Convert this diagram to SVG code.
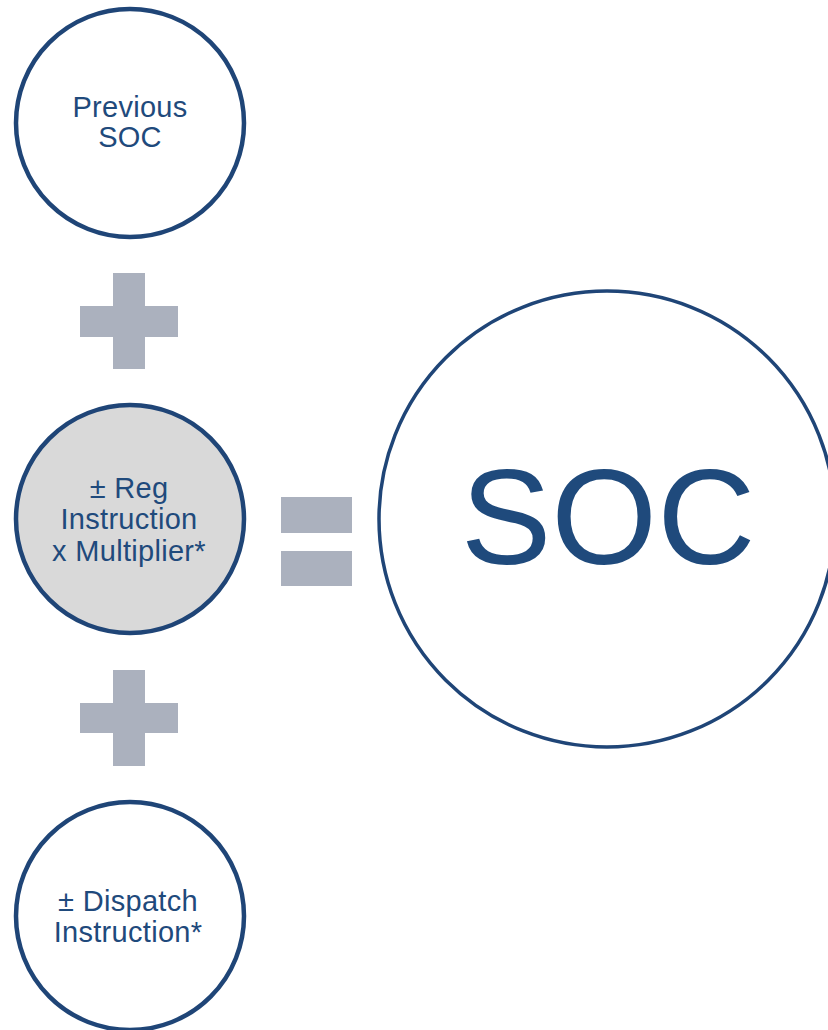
<svg xmlns="http://www.w3.org/2000/svg" width="828" height="1030" viewBox="0 0 828 1030">
<style>
.ring{fill:#ffffff;stroke:#1F4577;stroke-width:4.5}
.big{fill:#ffffff;stroke:#1F4577;stroke-width:3.5}
.shade{fill:#D9D9D9}
.op{fill:#ABB1BE}
.lbl{font-family:"Liberation Sans",Arial,sans-serif;font-size:29px;letter-spacing:0.3px;fill:#1F4A7C;text-anchor:middle}
.soc{font-family:"Liberation Sans",Arial,sans-serif;font-size:136px;fill:#1F4A7C;text-anchor:middle}
</style>
<g id="prev">
<circle class="ring" cx="130" cy="123" r="114"/>
<text class="lbl" x="130" y="117">Previous</text>
<text class="lbl" x="130" y="147">SOC</text>
</g>
<g id="plus1">
<rect class="op" x="113" y="273" width="32" height="96"/>
<rect class="op" x="80" y="306" width="98" height="31"/>
</g>
<g id="reg">
<circle class="ring shade" cx="130" cy="519" r="114"/>
<text class="lbl" x="129" y="498">± Reg</text>
<text class="lbl" x="129" y="529">Instruction</text>
<text class="lbl" x="129" y="561">x Multiplier*</text>
</g>
<g id="equals">
<rect class="op" x="281" y="497" width="71" height="36"/>
<rect class="op" x="281" y="551" width="71" height="35"/>
</g>
<g id="soc">
<circle class="big" cx="607" cy="519" r="228"/>
<text class="soc" x="608" y="564">SOC</text>
</g>
<g id="plus2">
<rect class="op" x="113" y="670" width="32" height="96"/>
<rect class="op" x="80" y="703" width="98" height="30"/>
</g>
<g id="dispatch">
<circle class="ring" cx="130" cy="916" r="114"/>
<text class="lbl" x="128" y="911">± Dispatch</text>
<text class="lbl" x="128" y="942">Instruction*</text>
</g>
<g id="connectors"></g>
</svg>
